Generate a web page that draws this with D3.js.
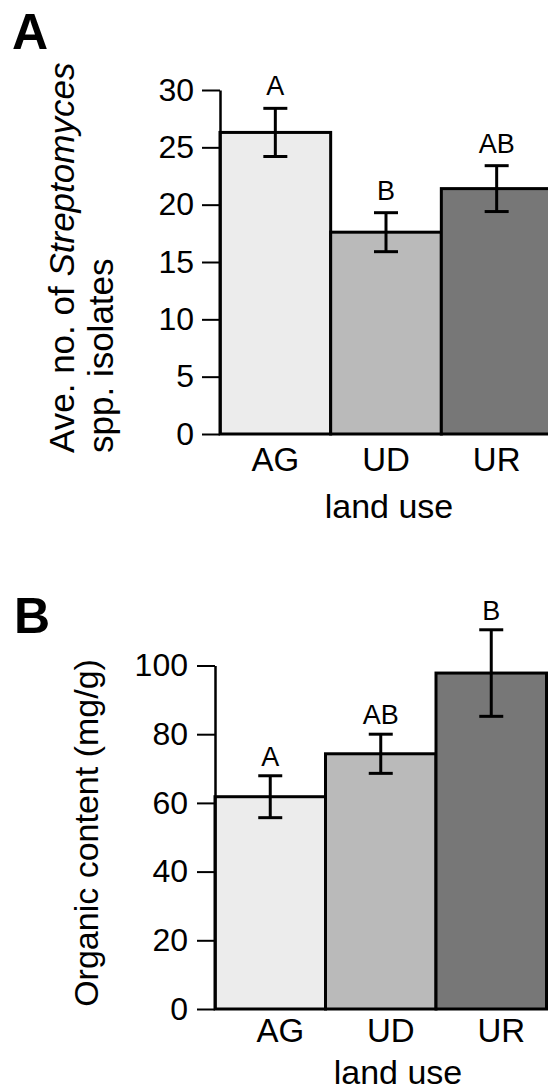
<!DOCTYPE html>
<html>
<head>
<meta charset="utf-8">
<script src="https://cdn.jsdelivr.net/npm/d3@7/dist/d3.min.js"></script>
<style>
  html, body { margin: 0; padding: 0; background: #fff; }
  svg { display: block; }
  text { font-family: "Liberation Sans", Arial, Helvetica, sans-serif; fill: #000; }
</style>
</head>
<body>
<svg id="chart" width="548" height="1092"></svg>
<script>
// ---- data ----
const categories = ["AG", "UD", "UR"];
const barColors = ["#ececec", "#bababa", "#777777"];

// Panel A: average number of Streptomyces spp. isolates
const isolatesMean = [26.3, 17.6, 21.4];
const isolatesErr = [2.1, 1.7, 2.0];
const isolatesLetters = ["A", "B", "AB"];
const isolatesTicks = [0, 5, 10, 15, 20, 25, 30];

// Panel B: organic content (mg/g)
const organicMean = [61.8, 74.3, 97.8];
const organicErr = [6.1, 5.7, 12.6];
const organicLetters = ["A", "AB", "B"];
const organicTicks = [0, 20, 40, 60, 80, 100];

const svg = d3.select("#chart");

function panel(cfg) {
  const g = svg.append("g");
  const x = d3.scaleBand().domain(categories).range([cfg.x0, cfg.x1]).padding(0);
  const y = d3.scaleLinear().domain([0, cfg.ymax]).range([cfg.yBottom, cfg.yTop]);

  // bars
  g.selectAll("rect.bar").data(categories).join("rect")
    .attr("class", "bar")
    .attr("x", d => x(d))
    .attr("width", x.bandwidth())
    .attr("y", (d, i) => y(cfg.mean[i]))
    .attr("height", (d, i) => y(0) - y(cfg.mean[i]))
    .attr("fill", (d, i) => barColors[i])
    .attr("stroke", "#000")
    .attr("stroke-width", 3);

  // error bars
  const eb = g.selectAll("g.err").data(categories).join("g").attr("class", "err");
  const cx = d => x(d) + x.bandwidth() / 2;
  eb.append("line")
    .attr("x1", cx).attr("x2", cx)
    .attr("y1", (d, i) => y(cfg.mean[i] + cfg.err[i]))
    .attr("y2", (d, i) => y(cfg.mean[i] - cfg.err[i]));
  eb.append("line")
    .attr("x1", d => cx(d) - 12).attr("x2", d => cx(d) + 12)
    .attr("y1", (d, i) => y(cfg.mean[i] + cfg.err[i]))
    .attr("y2", (d, i) => y(cfg.mean[i] + cfg.err[i]));
  eb.append("line")
    .attr("x1", d => cx(d) - 12).attr("x2", d => cx(d) + 12)
    .attr("y1", (d, i) => y(cfg.mean[i] - cfg.err[i]))
    .attr("y2", (d, i) => y(cfg.mean[i] - cfg.err[i]));
  eb.selectAll("line").attr("stroke", "#000").attr("stroke-width", 3);

  // significance letters
  g.selectAll("text.sig").data(categories).join("text")
    .attr("class", "sig")
    .attr("x", cx)
    .attr("y", (d, i) => y(cfg.mean[i] + cfg.err[i]) - cfg.letterGap)
    .attr("text-anchor", "middle")
    .attr("font-size", 27)
    .text((d, i) => cfg.letters[i]);

  // y axis
  const ax = g.append("g")
    .attr("transform", `translate(${cfg.x0},0)`)
    .call(d3.axisLeft(y).tickValues(cfg.ticks).tickSize(18).tickSizeOuter(0).tickPadding(cfg.tickPad));
  ax.select(".domain").attr("stroke", "#000").attr("stroke-width", 2.5);
  ax.selectAll(".tick line").attr("stroke", "#000").attr("stroke-width", 2);
  ax.selectAll(".tick text").attr("font-size", 32).attr("fill", "#000")
    .attr("font-family", "Liberation Sans, Arial, sans-serif");

  // x axis category labels
  const xa = g.append("g")
    .attr("transform", `translate(${cfg.labelShift},${cfg.yBottom})`)
    .call(d3.axisBottom(x).tickSize(0).tickPadding(cfg.catPad));
  xa.select(".domain").remove();
  xa.selectAll(".tick text").attr("font-size", 33).attr("fill", "#000")
    .attr("font-family", "Liberation Sans, Arial, sans-serif");

  // x title
  g.append("text")
    .attr("x", cfg.xTitleX).attr("y", cfg.xTitleY)
    .attr("text-anchor", "middle")
    .attr("font-size", 34)
    .text("land use");

  // panel letter
  g.append("text")
    .attr("x", cfg.panelX).attr("y", cfg.panelY)
    .attr("font-size", 50).attr("font-weight", "bold")
    .text(cfg.panel);
  return g;
}

const gA = panel({
  panel: "A", panelX: 12, panelY: 49,
  x0: 220, x1: 552, yTop: 90, yBottom: 434, ymax: 30,
  mean: isolatesMean, err: isolatesErr, letters: isolatesLetters, ticks: isolatesTicks,
  letterGap: 13, tickPad: 8, labelShift: 0, catPad: 14,
  xTitleX: 389, xTitleY: 518
});

// Panel A y title (two lines, start-anchored)
const tA = gA.append("text")
  .attr("transform", "translate(74,453) rotate(-90)")
  .attr("font-size", 35)
  .attr("text-anchor", "start");
tA.append("tspan").text("Ave. no. of ");
tA.append("tspan").attr("font-style", "italic").text("Streptomyces");
gA.append("text")
  .attr("transform", "translate(113,453) rotate(-90)")
  .attr("font-size", 35)
  .attr("text-anchor", "start")
  .text("spp. isolates");

const gB = panel({
  panel: "B", panelX: 14, panelY: 633,
  x0: 215, x1: 546.5, yTop: 665.5, yBottom: 1009, ymax: 100,
  mean: organicMean, err: organicErr, letters: organicLetters, ticks: organicTicks,
  letterGap: 10, tickPad: 9, labelShift: 10, catPad: 10,
  xTitleX: 398, xTitleY: 1084
});

gB.append("text")
  .attr("transform", "translate(98,833) rotate(-90)")
  .attr("font-size", 34)
  .attr("text-anchor", "middle")
  .text("Organic content (mg/g)");
</script>
</body>
</html>
